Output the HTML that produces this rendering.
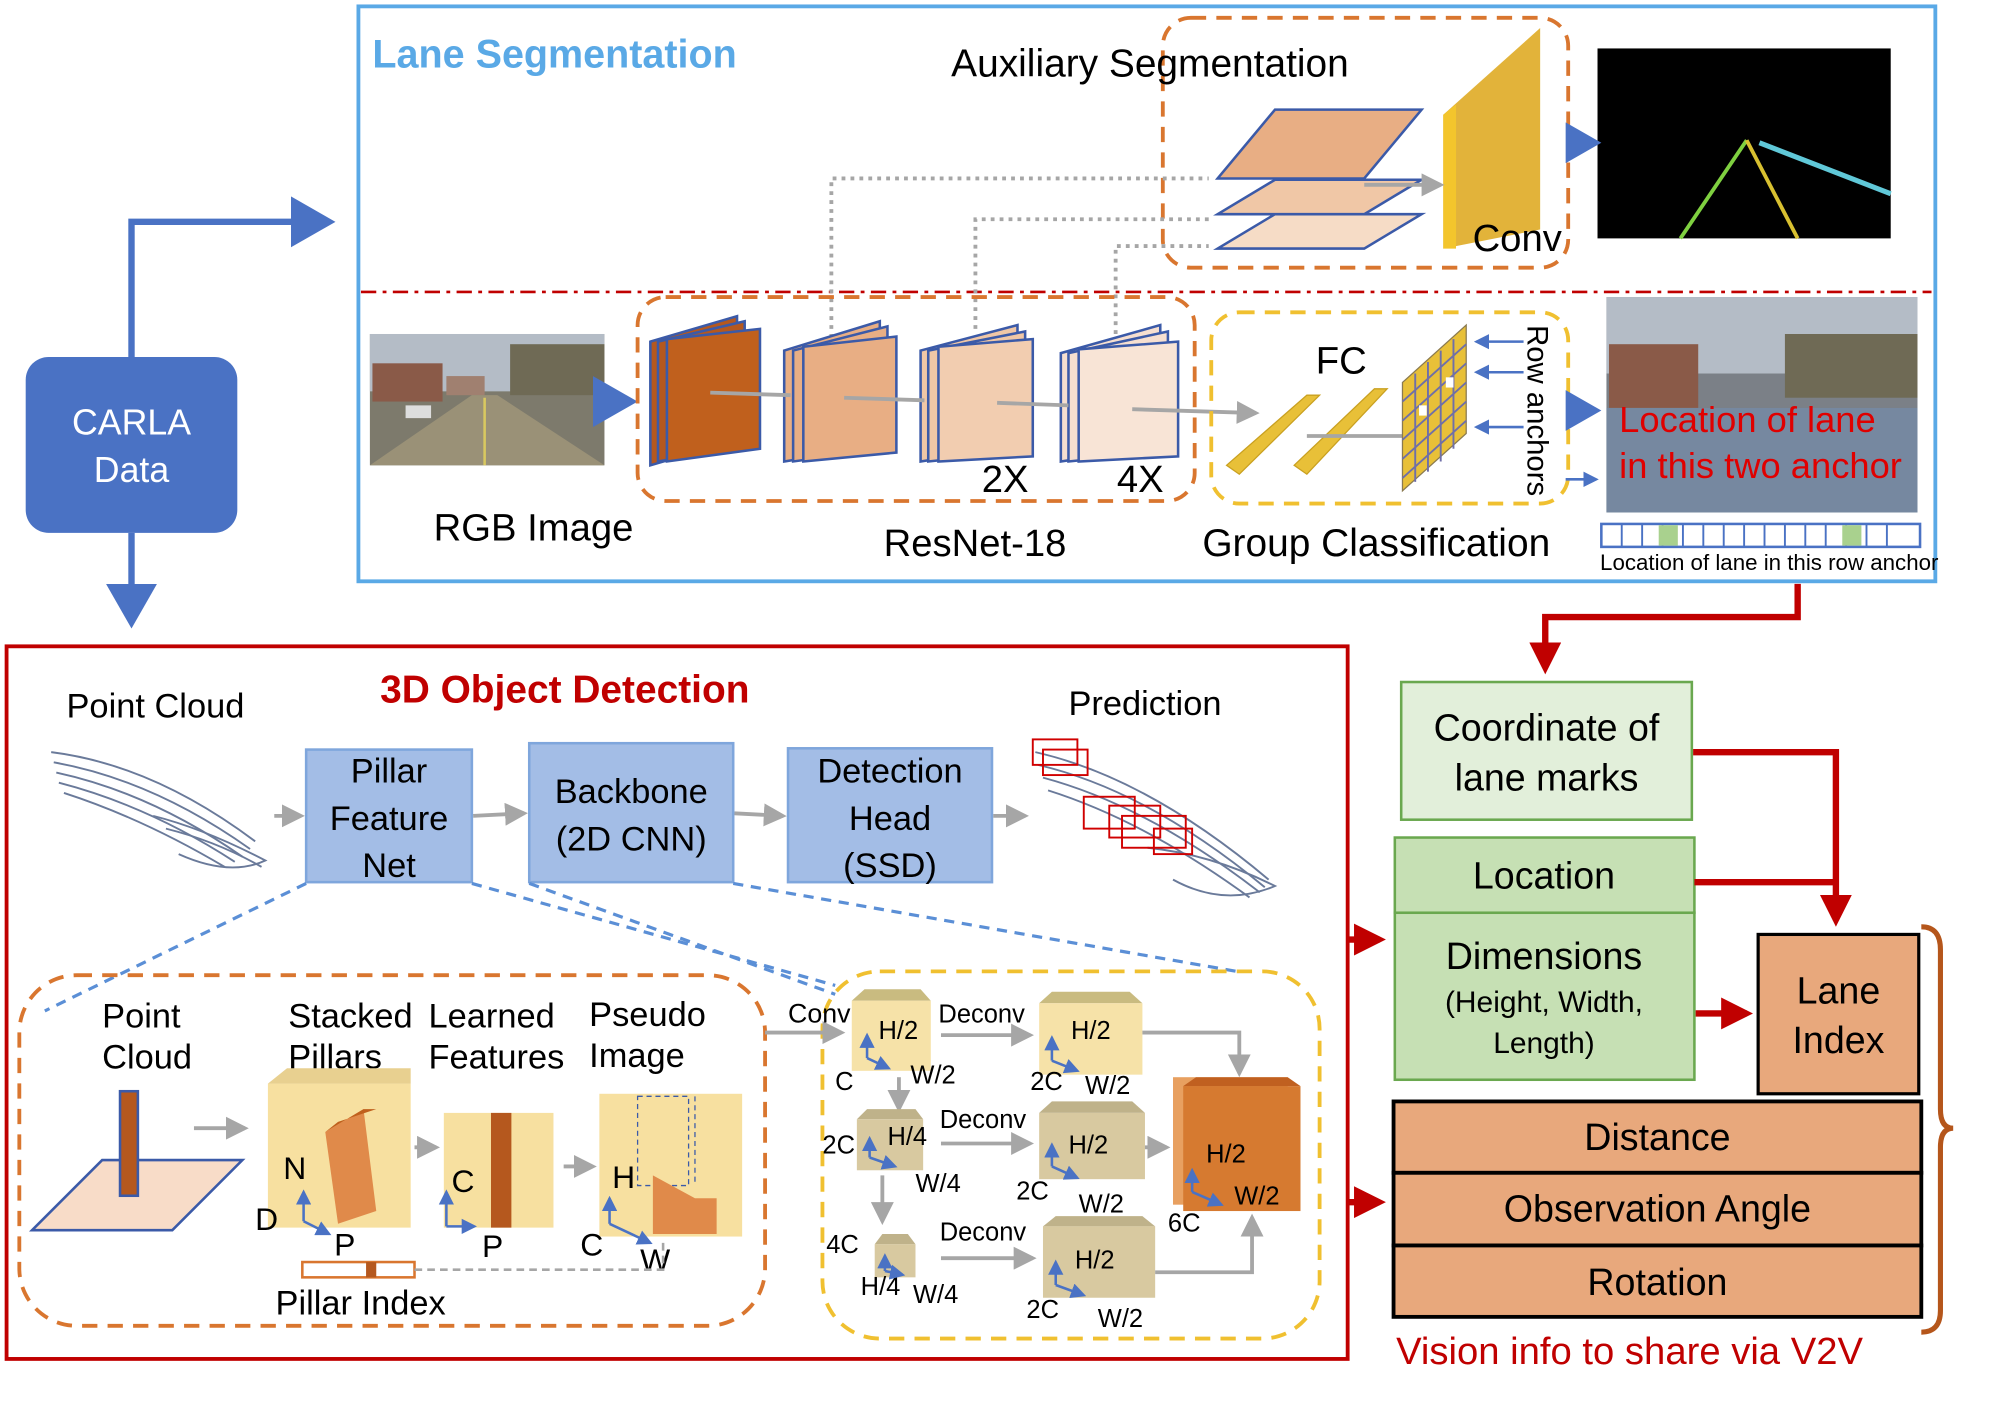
<!DOCTYPE html>
<html><head><meta charset="utf-8"><style>
html,body{margin:0;padding:0;background:#fff;}
svg{display:block;font-family:"Liberation Sans",sans-serif;}
</style></head><body>
<svg width="1998" height="1401" viewBox="0 0 1567 1099" xmlns="http://www.w3.org/2000/svg">
<defs>
<marker id="ab" markerWidth="8" markerHeight="8" refX="6" refY="4" orient="auto" markerUnits="strokeWidth"><path d="M0,0 L7,4 L0,8 z" fill="#4a72c4"/></marker>
<marker id="ag" markerWidth="6" markerHeight="6" refX="5" refY="3" orient="auto" markerUnits="strokeWidth"><path d="M0,0 L6,3 L0,6 z" fill="#a6a6a6"/></marker>
<marker id="ar" markerWidth="5" markerHeight="5" refX="4" refY="2.5" orient="auto" markerUnits="strokeWidth"><path d="M0,0 L5,2.5 L0,5 z" fill="#c00000"/></marker>
<marker id="abs" markerWidth="6" markerHeight="6" refX="5" refY="3" orient="auto" markerUnits="strokeWidth"><path d="M0,0 L6,3 L0,6 z" fill="#4a72c4"/></marker>
</defs>

<rect x="281" y="5" width="1237" height="451" fill="none" stroke="#5aa9e6" stroke-width="3"/>
<text x="292" y="53" font-size="31" font-weight="bold" fill="#5aa9e6">Lane Segmentation</text>
<line x1="283" y1="229" x2="1515" y2="229" stroke="#c00000" stroke-width="2" stroke-dasharray="12,5,3,5"/>

<rect x="912" y="14" width="318" height="196" rx="22" fill="none" stroke="#d9762f" stroke-width="3" stroke-dasharray="12,8"/>
<polygon points="955,195 1000,168 1115,168 1070,195" fill="#f6dcc6" stroke="#3b5aa8" stroke-width="2"/>
<polygon points="955,168 1000,141 1115,141 1070,168" fill="#f0c7a6" stroke="#3b5aa8" stroke-width="2"/>
<polygon points="955,140 1000,86 1115,86 1070,140" fill="#e8ae84" stroke="#3b5aa8" stroke-width="2"/>
<polygon points="1132,90 1208,22 1208,180 1132,195" fill="#e2b33a"/>
<polygon points="1132,90 1142,82 1142,195 1132,195" fill="#f3c52c"/>
<text x="746" y="60" font-size="30.5">Auxiliary Segmentation</text>
<text x="1155" y="197" font-size="30">Conv</text>
<line x1="1070" y1="145" x2="1130" y2="145" stroke="#a6a6a6" stroke-width="3" marker-end="url(#ag)"/>
<rect x="1253" y="38" width="230" height="149" fill="#000"/>
<line x1="1318" y1="187" x2="1370" y2="110" stroke="#7fd040" stroke-width="3"/>
<line x1="1370" y1="110" x2="1410" y2="187" stroke="#d8c030" stroke-width="3"/>
<line x1="1380" y1="112" x2="1483" y2="152" stroke="#60c8d8" stroke-width="4"/>
<line x1="1232" y1="112" x2="1252" y2="112" stroke="#4a72c4" stroke-width="4" marker-end="url(#ab)"/>

<g stroke="#a6a6a6" stroke-width="3" stroke-dasharray="3,4" fill="none">
<path d="M652,265 V140 H948"/>
<path d="M765,258 V172 H948"/>
<path d="M875,262 V193 H948"/>
</g>

<rect x="290" y="262" width="184" height="103" fill="#7d7a6c"/>
<rect x="290" y="262" width="184" height="45" fill="#b4bcc6"/>
<rect x="292" y="285" width="55" height="30" fill="#8a5a48"/>
<rect x="350" y="295" width="30" height="15" fill="#a08070"/>
<rect x="400" y="270" width="74" height="40" fill="#6f6a55"/>
<polygon points="290,365 370,310 390,310 474,365" fill="#9a9177"/>
<line x1="380" y1="312" x2="380" y2="365" stroke="#d8c860" stroke-width="2"/>
<rect x="318" y="318" width="20" height="10" fill="#ddd"/>
<line x1="476" y1="315" x2="495" y2="315" stroke="#4a72c4" stroke-width="5" marker-end="url(#ab)"/>
<text x="340" y="424" font-size="30">RGB Image</text>

<rect x="500" y="233" width="437" height="160" rx="22" fill="none" stroke="#d9762f" stroke-width="3" stroke-dasharray="12,8"/>
<g stroke="#3b5aa8" stroke-width="2">
<polygon points="510,268 578,248 578,345 510,365" fill="#b5581e"/>
<polygon points="516,268 584,252 584,350 516,362" fill="#b5581e"/>
<polygon points="523,266 596,258 596,352 523,362" fill="#c0601d"/>
<polygon points="615,275 690,252 690,350 615,362" fill="#e8ae84"/>
<polygon points="622,275 696,256 696,352 622,362" fill="#e8ae84"/>
<polygon points="630,272 703,264 703,355 630,362" fill="#e8ae84"/>
<polygon points="722,275 798,255 798,350 722,362" fill="#f0c7a6"/>
<polygon points="728,275 804,260 804,354 728,362" fill="#f0c7a6"/>
<polygon points="736,272 810,266 810,358 736,362" fill="#f2cdb0"/>
<polygon points="832,277 910,255 910,350 832,362" fill="#f6dfd0"/>
<polygon points="838,277 916,260 916,354 838,362" fill="#f6dfd0"/>
<polygon points="846,274 924,268 924,358 846,362" fill="#f8e4d6"/>
</g>
<g stroke="#a6a6a6" stroke-width="3">
<line x1="557" y1="308" x2="620" y2="310"/>
<line x1="662" y1="312" x2="725" y2="314"/>
<line x1="782" y1="316" x2="838" y2="318"/>
<line x1="888" y1="321" x2="985" y2="324" marker-end="url(#ag)"/>
</g>
<text x="770" y="386" font-size="30">2X</text>
<text x="876" y="386" font-size="30">4X</text>
<text x="693" y="436" font-size="30">ResNet-18</text>

<rect x="950" y="245" width="280" height="150" rx="22" fill="none" stroke="#f0c030" stroke-width="3" stroke-dasharray="12,8"/>
<polygon points="962,365 1025,310 1035,310 972,372" fill="#e8c038" stroke="#c9a020"/>
<polygon points="1015,365 1078,305 1088,305 1025,372" fill="#e8c038" stroke="#c9a020"/>
<line x1="1025" y1="342" x2="1105" y2="342" stroke="#a6a6a6" stroke-width="3"/>
<polygon points="1100,300 1150,255 1150,340 1100,385" fill="#e8c038" stroke="#8a7a50"/>
<g stroke="#6f6fa8" stroke-width="1.5">
<line x1="1110" y1="293" x2="1110" y2="378"/><line x1="1120" y1="284" x2="1120" y2="370"/><line x1="1130" y1="275" x2="1130" y2="362"/><line x1="1140" y1="266" x2="1140" y2="352"/>
<line x1="1100" y1="315" x2="1150" y2="270"/><line x1="1100" y1="330" x2="1150" y2="285"/><line x1="1100" y1="345" x2="1150" y2="300"/><line x1="1100" y1="360" x2="1150" y2="315"/><line x1="1100" y1="375" x2="1150" y2="330"/>
</g>
<rect x="1113" y="318" width="6" height="8" fill="#fff"/><rect x="1134" y="296" width="6" height="8" fill="#fff"/>
<text x="1032" y="293" font-size="30">FC</text>
<g stroke="#4a72c4" stroke-width="2">
<line x1="1195" y1="268" x2="1158" y2="268" marker-end="url(#abs)"/>
<line x1="1195" y1="292" x2="1158" y2="292" marker-end="url(#abs)"/>
<line x1="1195" y1="335" x2="1158" y2="335" marker-end="url(#abs)"/>
<line x1="1228" y1="376" x2="1252" y2="376" marker-end="url(#abs)"/>
</g>
<text x="1198" y="255" font-size="23" transform="rotate(90 1198 255)">Row anchors</text>
<text x="943" y="436" font-size="30.5">Group Classification</text>
<line x1="1232" y1="322" x2="1252" y2="322" stroke="#4a72c4" stroke-width="4" marker-end="url(#ab)"/>

<rect x="1260" y="233" width="244" height="169" fill="#7b8087"/>
<rect x="1260" y="233" width="244" height="60" fill="#b4bcc6"/>
<rect x="1262" y="270" width="70" height="50" fill="#8a5a48"/>
<rect x="1400" y="262" width="104" height="50" fill="#6f6a55"/>
<rect x="1260" y="320" width="244" height="82" fill="#7688a0"/>
<text x="1270" y="339" font-size="28.5" fill="#e00000">Location of lane</text>
<text x="1270" y="375" font-size="28.5" fill="#e00000">in this two anchor</text>
<rect x="1256" y="411" width="250" height="18" fill="#fff" stroke="#4a72c4" stroke-width="2"/>
<g stroke="#4a72c4" stroke-width="1.5">
<line x1="1272" y1="411" x2="1272" y2="429"/><line x1="1288" y1="411" x2="1288" y2="429"/><line x1="1304" y1="411" x2="1304" y2="429"/><line x1="1320" y1="411" x2="1320" y2="429"/><line x1="1336" y1="411" x2="1336" y2="429"/><line x1="1352" y1="411" x2="1352" y2="429"/><line x1="1368" y1="411" x2="1368" y2="429"/><line x1="1384" y1="411" x2="1384" y2="429"/><line x1="1400" y1="411" x2="1400" y2="429"/><line x1="1416" y1="411" x2="1416" y2="429"/><line x1="1432" y1="411" x2="1432" y2="429"/><line x1="1448" y1="411" x2="1448" y2="429"/><line x1="1464" y1="411" x2="1464" y2="429"/><line x1="1480" y1="411" x2="1480" y2="429"/>
</g>
<rect x="1301" y="412" width="15" height="16" fill="#a9d18e"/>
<rect x="1445" y="412" width="15" height="16" fill="#a9d18e"/>
<text x="1255" y="447" font-size="17.5">Location of lane in this row anchor</text>

<rect x="20" y="280" width="166" height="138" rx="18" fill="#4a72c4"/>
<text x="103" y="341" font-size="28" fill="#fff" text-anchor="middle">CARLA</text>
<text x="103" y="378" font-size="28" fill="#fff" text-anchor="middle">Data</text>
<path d="M103,280 V174 H258" fill="none" stroke="#4a72c4" stroke-width="5" marker-end="url(#ab)"/>
<line x1="103" y1="418" x2="103" y2="488" stroke="#4a72c4" stroke-width="5" marker-end="url(#ab)"/>

<path d="M1410,458 V484 H1212 V524" fill="none" stroke="#c00000" stroke-width="5" marker-end="url(#ar)"/>

<rect x="5" y="507" width="1052" height="559" fill="none" stroke="#c00000" stroke-width="3"/>
<text x="298" y="551" font-size="30.5" font-weight="bold" fill="#c00000">3D Object Detection</text>
<text x="52" y="563" font-size="27">Point Cloud</text>
<text x="838" y="561" font-size="27">Prediction</text>
<g fill="none" stroke="#6a7a9a" stroke-width="1.5">
<path d="M40,590 Q120,600 200,660"/><path d="M42,598 Q120,612 196,666"/><path d="M44,606 Q118,622 190,672"/><path d="M46,614 Q116,632 184,676"/><path d="M50,622 Q112,642 176,680"/>
<path d="M120,640 Q160,650 208,675 Q180,688 140,670"/><path d="M130,650 Q170,660 205,680"/>
<path d="M812,590 Q900,610 995,690"/><path d="M814,600 Q900,620 992,696"/><path d="M818,610 Q900,632 988,700"/><path d="M822,620 Q898,644 980,704"/>
<path d="M900,665 Q950,670 1000,695 Q960,712 920,690"/>
</g>
<g fill="none" stroke="#d00000" stroke-width="1.5">
<rect x="810" y="580" width="35" height="20"/><rect x="818" y="588" width="35" height="20"/><rect x="850" y="625" width="40" height="25"/><rect x="880" y="640" width="50" height="25"/><rect x="905" y="650" width="30" height="20"/><rect x="870" y="632" width="40" height="25"/>
</g>
<g fill="#a3bde6" stroke="#7fa6dc" stroke-width="2">
<rect x="240" y="588" width="130" height="104"/>
<rect x="415" y="583" width="160" height="109"/>
<rect x="618" y="587" width="160" height="105"/>
</g>
<g font-size="27" text-anchor="middle">
<text x="305" y="614">Pillar</text><text x="305" y="651">Feature</text><text x="305" y="688">Net</text>
<text x="495" y="630">Backbone</text><text x="495" y="667">(2D CNN)</text>
<text x="698" y="614">Detection</text><text x="698" y="651">Head</text><text x="698" y="688">(SSD)</text>
</g>
<g stroke="#a6a6a6" stroke-width="3">
<line x1="215" y1="640" x2="236" y2="640" marker-end="url(#ag)"/>
<line x1="371" y1="640" x2="411" y2="638" marker-end="url(#ag)"/>
<line x1="576" y1="638" x2="614" y2="640" marker-end="url(#ag)"/>
<line x1="779" y1="640" x2="804" y2="640" marker-end="url(#ag)"/>
</g>
<g stroke="#5b8fd6" stroke-width="2.5" stroke-dasharray="8,6" fill="none">
<line x1="240" y1="693" x2="35" y2="793"/>
<line x1="370" y1="693" x2="655" y2="773"/>
<line x1="415" y1="693" x2="655" y2="780"/>
<line x1="575" y1="693" x2="970" y2="762"/>
</g>

<rect x="15" y="765" width="585" height="275" rx="45" fill="none" stroke="#d9762f" stroke-width="3" stroke-dasharray="12,8"/>
<g font-size="27">
<text x="80" y="806">Point</text><text x="80" y="838">Cloud</text>
<text x="226" y="806">Stacked</text><text x="226" y="838">Pillars</text>
<text x="336" y="806">Learned</text><text x="336" y="838">Features</text>
<text x="462" y="805">Pseudo</text><text x="462" y="837">Image</text>
</g>
<polygon points="25,965 80,910 190,910 135,965" fill="#f8dcc8" stroke="#3b5aa8" stroke-width="2"/>
<rect x="94" y="856" width="14" height="82" fill="#b5581e" stroke="#3b5aa8" stroke-width="2"/>
<line x1="152" y1="885" x2="192" y2="885" stroke="#a6a6a6" stroke-width="3" marker-end="url(#ag)"/>
<rect x="210" y="850" width="112" height="113" fill="#f7e0a0"/>
<polygon points="210,850 225,838 322,838 322,850" fill="#e8d090"/>
<polygon points="255,888 285,870 295,950 265,960" fill="#e08a4a"/>
<polygon points="255,888 265,880 295,870 285,870" fill="#c0601d"/>
<text x="222" y="925" font-size="25">N</text><text x="200" y="965" font-size="25">D</text><text x="262" y="985" font-size="25">P</text>
<line x1="325" y1="900" x2="342" y2="900" stroke="#a6a6a6" stroke-width="3" marker-end="url(#ag)"/>
<rect x="348" y="873" width="86" height="90" fill="#f7e0a0"/>
<rect x="385" y="873" width="16" height="90" fill="#b5581e"/>
<text x="354" y="935" font-size="25">C</text><text x="378" y="986" font-size="25">P</text>
<line x1="442" y1="915" x2="465" y2="915" stroke="#a6a6a6" stroke-width="3" marker-end="url(#ag)"/>
<rect x="470" y="858" width="112" height="112" fill="#f7e0a0"/>
<g stroke="#3b5aa8" stroke-width="1" stroke-dasharray="4,3" fill="none"><rect x="500" y="860" width="40" height="70"/><line x1="545" y1="860" x2="545" y2="930"/></g>
<polygon points="512,922 545,940 562,940 562,968 512,968" fill="#e08a4a"/>
<text x="480" y="932" font-size="25">H</text><text x="455" y="985" font-size="25">C</text><text x="502" y="997" font-size="25">W</text>
<g stroke="#4a72c4" stroke-width="2">
<line x1="238" y1="958" x2="238" y2="935" marker-end="url(#abs)"/><line x1="238" y1="958" x2="258" y2="968" marker-end="url(#abs)"/>
<line x1="350" y1="962" x2="350" y2="935" marker-end="url(#abs)"/><line x1="350" y1="962" x2="372" y2="962" marker-end="url(#abs)"/>
<line x1="478" y1="960" x2="478" y2="940" marker-end="url(#abs)"/><line x1="478" y1="960" x2="510" y2="975" marker-end="url(#abs)"/>
</g>
<rect x="237" y="990" width="88" height="12" fill="#fff" stroke="#d9762f" stroke-width="2"/>
<rect x="287" y="990" width="8" height="12" fill="#b5581e"/>
<path d="M325,996 H520 V975" fill="none" stroke="#a6a6a6" stroke-width="2" stroke-dasharray="6,4"/>
<text x="216" y="1031" font-size="27">Pillar Index</text>

<rect x="645" y="762" width="390" height="288" rx="45" fill="none" stroke="#f0c030" stroke-width="3" stroke-dasharray="12,8"/>
<line x1="600" y1="810" x2="660" y2="810" stroke="#a6a6a6" stroke-width="3" marker-end="url(#ag)"/>
<text x="618" y="802" font-size="21">Conv</text>
<g font-size="20">
<polygon points="668,785 678,776 722,776 730,785" fill="#c9bb80"/>
<rect x="668" y="785" width="62" height="55" fill="#f6e2a8"/>
<text x="689" y="815">H/2</text><text x="655" y="855">C</text><text x="714" y="850">W/2</text>
<text x="736" y="802">Deconv</text>
<line x1="738" y1="812" x2="808" y2="812" stroke="#a6a6a6" stroke-width="3" marker-end="url(#ag)"/>
<polygon points="815,787 825,778 886,778 896,787" fill="#c9bb80"/>
<rect x="815" y="787" width="81" height="56" fill="#f6e2a8"/>
<text x="840" y="815">H/2</text><text x="808" y="855">2C</text><text x="851" y="858">W/2</text>
<line x1="705" y1="845" x2="705" y2="870" stroke="#a6a6a6" stroke-width="3" marker-end="url(#ag)"/>
<polygon points="672,878 680,870 718,870 724,878" fill="#bfb28a"/>
<rect x="672" y="878" width="52" height="40" fill="#d8c9a0"/>
<text x="696" y="898">H/4</text><text x="645" y="905">2C</text><text x="718" y="935">W/4</text>
<text x="737" y="885">Deconv</text>
<line x1="738" y1="897" x2="808" y2="897" stroke="#a6a6a6" stroke-width="3" marker-end="url(#ag)"/>
<polygon points="815,873 825,864 888,864 898,873" fill="#bfb28a"/>
<rect x="815" y="873" width="83" height="52" fill="#d8c9a0"/>
<text x="838" y="905">H/2</text><text x="797" y="941">2C</text><text x="846" y="951">W/2</text>
<line x1="692" y1="922" x2="692" y2="958" stroke="#a6a6a6" stroke-width="3" marker-end="url(#ag)"/>
<polygon points="686,976 692,968 712,968 718,976" fill="#bfb28a"/>
<rect x="686" y="976" width="32" height="26" fill="#d8c9a0"/>
<text x="648" y="983">4C</text><text x="675" y="1016">H/4</text><text x="716" y="1022">W/4</text>
<text x="737" y="973">Deconv</text>
<line x1="738" y1="987" x2="810" y2="987" stroke="#a6a6a6" stroke-width="3" marker-end="url(#ag)"/>
<polygon points="818,962 828,954 896,954 906,962" fill="#bfb28a"/>
<rect x="818" y="962" width="88" height="56" fill="#d8c9a0"/>
<text x="843" y="995">H/2</text><text x="805" y="1034">2C</text><text x="861" y="1041">W/2</text>
</g>
<rect x="920" y="845" width="90" height="100" fill="#e8a060"/>
<rect x="928" y="852" width="92" height="98" fill="#d67a30"/>
<polygon points="928,852 938,845 1010,845 1020,852" fill="#c06020"/>
<text x="946" y="912" font-size="20">H/2</text><text x="968" y="945" font-size="20">W/2</text><text x="916" y="966" font-size="20">6C</text>
<g stroke="#a6a6a6" stroke-width="3" fill="none">
<path d="M896,810 H972 V842" marker-end="url(#ag)"/>
<line x1="898" y1="900" x2="915" y2="900" marker-end="url(#ag)"/>
<path d="M906,998 H982 V955" marker-end="url(#ag)"/>
</g>
<g stroke="#4a72c4" stroke-width="2">
<line x1="680" y1="830" x2="680" y2="812" marker-end="url(#abs)"/><line x1="680" y1="830" x2="697" y2="838" marker-end="url(#abs)"/>
<line x1="825" y1="832" x2="825" y2="814" marker-end="url(#abs)"/><line x1="825" y1="832" x2="845" y2="840" marker-end="url(#abs)"/>
<line x1="682" y1="908" x2="682" y2="893" marker-end="url(#abs)"/><line x1="682" y1="908" x2="702" y2="915" marker-end="url(#abs)"/>
<line x1="825" y1="915" x2="825" y2="898" marker-end="url(#abs)"/><line x1="825" y1="915" x2="845" y2="924" marker-end="url(#abs)"/>
<line x1="694" y1="997" x2="694" y2="985" marker-end="url(#abs)"/><line x1="694" y1="997" x2="708" y2="1000" marker-end="url(#abs)"/>
<line x1="828" y1="1008" x2="828" y2="990" marker-end="url(#abs)"/><line x1="828" y1="1008" x2="850" y2="1016" marker-end="url(#abs)"/>
<line x1="935" y1="935" x2="935" y2="918" marker-end="url(#abs)"/><line x1="935" y1="935" x2="958" y2="945" marker-end="url(#abs)"/>
</g>

<line x1="1058" y1="737" x2="1082" y2="737" stroke="#c00000" stroke-width="5" marker-end="url(#ar)"/>
<line x1="1058" y1="943" x2="1082" y2="943" stroke="#c00000" stroke-width="5" marker-end="url(#ar)"/>

<rect x="1099" y="535" width="228" height="108" fill="#e2efda" stroke="#6aa84f" stroke-width="2"/>
<text x="1213" y="581" font-size="29.5" text-anchor="middle">Coordinate of</text>
<text x="1213" y="620" font-size="29.5" text-anchor="middle">lane marks</text>
<rect x="1094" y="657" width="235" height="59" fill="#c6e0b4" stroke="#6aa84f" stroke-width="2"/>
<text x="1211" y="697" font-size="29.5" text-anchor="middle">Location</text>
<rect x="1094" y="716" width="235" height="131" fill="#c6e0b4" stroke="#6aa84f" stroke-width="2"/>
<text x="1211" y="760" font-size="29.5" text-anchor="middle">Dimensions</text>
<text x="1211" y="794" font-size="23.5" text-anchor="middle">(Height, Width,</text>
<text x="1211" y="826" font-size="23.5" text-anchor="middle">Length)</text>
<path d="M1328,590 H1440 V722" fill="none" stroke="#c00000" stroke-width="5" marker-end="url(#ar)"/>
<line x1="1329" y1="692" x2="1440" y2="692" stroke="#c00000" stroke-width="5"/>
<line x1="1330" y1="795" x2="1370" y2="795" stroke="#c00000" stroke-width="5" marker-end="url(#ar)"/>
<rect x="1379" y="733" width="126" height="125" fill="#e8a87c" stroke="#000" stroke-width="2.5"/>
<text x="1442" y="787" font-size="29.5" text-anchor="middle">Lane</text>
<text x="1442" y="826" font-size="29.5" text-anchor="middle">Index</text>
<g fill="#e8a87c" stroke="#000" stroke-width="3">
<rect x="1093" y="864" width="414" height="56"/>
<rect x="1093" y="920" width="414" height="57"/>
<rect x="1093" y="977" width="414" height="56"/>
</g>
<g font-size="29.5" text-anchor="middle">
<text x="1300" y="902">Distance</text>
<text x="1300" y="958">Observation Angle</text>
<text x="1300" y="1016">Rotation</text>
</g>
<path d="M1507,727 Q1522,727 1522,745 V870 Q1522,885 1532,885 Q1522,885 1522,900 V1028 Q1522,1045 1507,1045" fill="none" stroke="#b5561b" stroke-width="4"/>
<text x="1095" y="1070" font-size="30" fill="#c00000">Vision info to share via V2V</text>
</svg>
</body></html>
